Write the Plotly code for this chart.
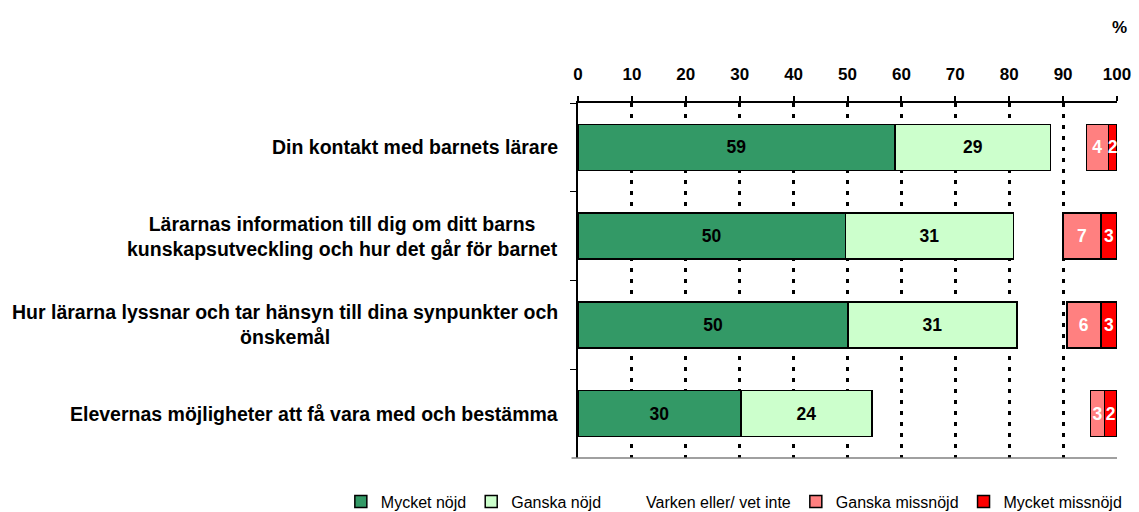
import plotly.graph_objects as go

categories = [
    "Din kontakt med barnets lärare",
    "Lärarnas information till dig om ditt barns<br>kunskapsutveckling och hur det går för barnet",
    "Hur lärarna lyssnar och tar hänsyn till dina synpunkter och<br>önskemål",
    "Elevernas möjligheter att få vara med och bestämma",
]
series_names = ["Mycket nöjd", "Ganska nöjd", "Varken eller/ vet inte", "Ganska missnöjd", "Mycket missnöjd"]
mycket_nojd = [58.8, 49.6, 50.1, 30.2]
ganska_nojd = [28.9, 31.2, 31.3, 24.3]
varken = [6.6, 9.2, 9.3, 40.6]
ganska_missnojd = [4.1, 7.0, 6.3, 2.6]
mycket_missnojd = [1.6, 3.0, 3.0, 2.3]
tick_values = [0, 10, 20, 30, 40, 50, 60, 70, 80, 90, 100]

colors = ["#339966", "#CCFFCC", "rgba(0,0,0,0)", "#FF8080", "#FF0000"]
text_colors = ["black", "black", "black", "white", "white"]
all_values = [mycket_nojd, ganska_nojd, varken, ganska_missnojd, mycket_missnojd]

FONT = "Liberation Sans, Arial, sans-serif"

fig = go.Figure()
for i, (name, vals) in enumerate(zip(series_names, all_values)):
    show_text = i != 2
    fig.add_trace(go.Bar(
        y=categories,
        x=vals,
        name=name,
        orientation="h",
        marker=dict(color=colors[i],
                    line=dict(color="black" if i != 2 else "rgba(0,0,0,0)", width=1.5)),
        text=[f"{v:.0f}" for v in vals] if show_text else None,
        textposition="inside" if show_text else "none",
        insidetextanchor="middle",
        textangle=0,
        textfont=dict(family=FONT, size=17.5, color=text_colors[i], weight="bold"),
        constraintext="none",
        cliponaxis=False,
        hoverinfo="x+name",
    ))

for cat in categories:
    fig.add_annotation(
        x=-0.033, xref="paper", y=cat, yref="y",
        text=cat, showarrow=False, xanchor="right", align="center",
        font=dict(family=FONT, size=19.5, color="black", weight="bold"),
    )

fig.add_annotation(x=1.0, xref="paper", y=1.0, yref="paper", yshift=76, xshift=12,
                   text="%", showarrow=False, xanchor="right", yanchor="middle",
                   font=dict(family=FONT, size=17, color="black", weight="bold"))

fig.add_shape(type="line", xref="paper", yref="paper", x0=-0.012, x1=1, y0=0, y1=0,
              line=dict(color="#808080", width=1.5))

fig.update_layout(
    width=1139, height=512,
    barmode="stack",
    bargap=0.48,
    paper_bgcolor="white",
    plot_bgcolor="white",
    margin=dict(l=578, r=22, t=103, b=54, autoexpand=False),
    showlegend=True,
    legend=dict(orientation="h", x=-0.44, xanchor="left", y=-0.075, yanchor="top",
                font=dict(family=FONT, size=16, color="black"),
                itemwidth=30, tracegroupgap=0, traceorder="normal"),
    xaxis=dict(
        range=[0, 100], side="top", tickvals=tick_values,
        tickfont=dict(family=FONT, size=17, color="black", weight="bold"),
        ticklabelstandoff=9,
        showline=True, linecolor="black", linewidth=1.5,
        ticks="outside", ticklen=5, tickcolor="black", tickwidth=1.5,
        showgrid=True, gridcolor="black", gridwidth=2.5, griddash="4px,7px",
        zeroline=False, fixedrange=True, automargin=False,
    ),
    yaxis=dict(
        autorange="reversed", showticklabels=False,
        showline=True, linecolor="black", linewidth=1.5,
        ticks="outside", ticklen=6, tickcolor="black", tickson="boundaries",
        showgrid=False, zeroline=False, fixedrange=True, automargin=False,
    ),
)

fig.write_html(
    "out.html",
    config={"displayModeBar": False},
    post_script="document.body.style.margin='0';document.body.style.overflow='hidden';",
)
